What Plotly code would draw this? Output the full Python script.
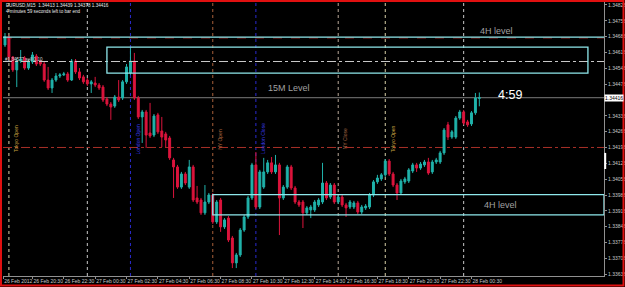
import plotly.graph_objects as go
import pandas as pd

# ---------------- data ----------------
symbol_line = "EURUSD,M15  1.34413 1.34439 1.34378 1.34416"
timer_line = "4 minutes 59 seconds left to bar end"

start = pd.Timestamp("2012-02-26 18:45")
bar = pd.Timedelta(minutes=15)
n_bars = 122
times = pd.date_range(start, periods=n_bars, freq="15min")

open_ = [1.34649, 1.34684, 1.34596, 1.34539, 1.34578, 1.34592, 1.34547, 1.34574, 1.34600, 1.34574,
         1.34565, 1.34494, 1.34459, 1.34494, 1.34512, 1.34517, 1.34521, 1.34494, 1.34578, 1.34530,
         1.34508, 1.34494, 1.34477, 1.34481, 1.34472, 1.34463, 1.34410, 1.34388, 1.34379, 1.34419,
         1.34415, 1.34486, 1.34525, 1.34578, 1.34415, 1.34331, 1.34353, 1.34260, 1.34251, 1.34340,
         1.34269, 1.34256, 1.34238, 1.34141, 1.34110, 1.34021, 1.34079, 1.34021, 1.34110, 1.33973,
         1.33964, 1.33907, 1.33955, 1.33986, 1.33867, 1.33964, 1.33845, 1.33884, 1.33796, 1.33686,
         1.33721, 1.33831, 1.33889, 1.33973, 1.34119, 1.33933, 1.34021, 1.34088, 1.34128, 1.34088,
         1.34119, 1.33973, 1.34021, 1.34110, 1.34017, 1.33955, 1.33955, 1.33907, 1.33920, 1.33920,
         1.33942, 1.33955, 1.34039, 1.33977, 1.34030, 1.33955, 1.33977, 1.33942, 1.33933, 1.33933,
         1.33951, 1.33911, 1.33929, 1.33933, 1.33986, 1.34044, 1.34057, 1.34075, 1.34136, 1.34079,
         1.34030, 1.33995, 1.34044, 1.34048, 1.34092, 1.34119, 1.34105, 1.34119, 1.34132, 1.34088,
         1.34132, 1.34132, 1.34172, 1.34296, 1.34242, 1.34242, 1.34326, 1.34353, 1.34309, 1.34300,
         1.34349, 1.34413]
high = [1.34702, 1.34693, 1.34600, 1.34592, 1.34627, 1.34600, 1.34583, 1.34618, 1.34609, 1.34583,
        1.34574, 1.34552, 1.34503, 1.34525, 1.34525, 1.34530, 1.34530, 1.34587, 1.34587, 1.34547,
        1.34517, 1.34503, 1.34494, 1.34508, 1.34481, 1.34472, 1.34419, 1.34397, 1.34428, 1.34494,
        1.34494, 1.34565, 1.34636, 1.34614, 1.34424, 1.34362, 1.34362, 1.34393, 1.34344, 1.34349,
        1.34331, 1.34265, 1.34247, 1.34150, 1.34119, 1.34088, 1.34088, 1.34141, 1.34119, 1.34026,
        1.33973, 1.34030, 1.33995, 1.33995, 1.33964, 1.33973, 1.33884, 1.33893, 1.33805, 1.33730,
        1.33840, 1.33898, 1.33982, 1.34128, 1.34176, 1.34097, 1.34150, 1.34141, 1.34154, 1.34163,
        1.34128, 1.34030, 1.34119, 1.34119, 1.34026, 1.33964, 1.33964, 1.33937, 1.33942, 1.33964,
        1.33973, 1.34128, 1.34048, 1.34039, 1.34039, 1.33986, 1.33986, 1.33951, 1.33964, 1.33960,
        1.33960, 1.33942, 1.33946, 1.33995, 1.34052, 1.34075, 1.34083, 1.34145, 1.34145, 1.34088,
        1.34039, 1.34057, 1.34066, 1.34105, 1.34128, 1.34128, 1.34132, 1.34141, 1.34150, 1.34141,
        1.34150, 1.34181, 1.34282, 1.34309, 1.34273, 1.34335, 1.34362, 1.34362, 1.34318, 1.34357,
        1.34437, 1.34439]
low = [1.34640, 1.34583, 1.34530, 1.34463, 1.34570, 1.34539, 1.34539, 1.34565, 1.34556, 1.34556,
       1.34486, 1.34450, 1.34437, 1.34486, 1.34503, 1.34512, 1.34486, 1.34490, 1.34521, 1.34494,
       1.34477, 1.34468, 1.34437, 1.34463, 1.34450, 1.34397, 1.34379, 1.34318, 1.34371, 1.34397,
       1.34406, 1.34477, 1.34517, 1.34406, 1.34322, 1.34216, 1.34194, 1.34238, 1.34242, 1.34256,
       1.34198, 1.34198, 1.34141, 1.33973, 1.34013, 1.34013, 1.34030, 1.34013, 1.33955, 1.33946,
       1.33898, 1.33898, 1.33946, 1.33858, 1.33858, 1.33823, 1.33836, 1.33778, 1.33663, 1.33663,
       1.33712, 1.33823, 1.33880, 1.33964, 1.33924, 1.33924, 1.34013, 1.34079, 1.34079, 1.34079,
       1.33809, 1.33964, 1.34013, 1.34008, 1.33946, 1.33933, 1.33840, 1.33898, 1.33884, 1.33911,
       1.33933, 1.33946, 1.33964, 1.33968, 1.33946, 1.33946, 1.33933, 1.33889, 1.33924, 1.33924,
       1.33902, 1.33902, 1.33920, 1.33924, 1.33977, 1.34035, 1.34048, 1.34066, 1.34070, 1.34021,
       1.33964, 1.33986, 1.34035, 1.34039, 1.34083, 1.34088, 1.34097, 1.34110, 1.34075, 1.34079,
       1.34123, 1.34123, 1.34163, 1.34229, 1.34234, 1.34234, 1.34318, 1.34296, 1.34287, 1.34291,
       1.34340, 1.34378]
close = [1.34684, 1.34596, 1.34539, 1.34578, 1.34587, 1.34547, 1.34574, 1.34605, 1.34565, 1.34565,
         1.34494, 1.34459, 1.34494, 1.34512, 1.34517, 1.34521, 1.34494, 1.34578, 1.34530, 1.34503,
         1.34486, 1.34477, 1.34486, 1.34472, 1.34459, 1.34406, 1.34388, 1.34375, 1.34419, 1.34406,
         1.34486, 1.34552, 1.34578, 1.34415, 1.34331, 1.34353, 1.34251, 1.34247, 1.34335, 1.34265,
         1.34242, 1.34229, 1.34150, 1.34110, 1.34021, 1.34079, 1.34039, 1.34110, 1.33964, 1.33955,
         1.33907, 1.33955, 1.33986, 1.33867, 1.33955, 1.33845, 1.33876, 1.33787, 1.33686, 1.33721,
         1.33831, 1.33889, 1.33973, 1.34119, 1.33933, 1.34088, 1.34088, 1.34128, 1.34088, 1.34119,
         1.33973, 1.34021, 1.34110, 1.34017, 1.33955, 1.33942, 1.33907, 1.33929, 1.33933, 1.33955,
         1.33964, 1.34039, 1.33973, 1.34030, 1.33955, 1.33977, 1.33942, 1.33929, 1.33955, 1.33951,
         1.33911, 1.33933, 1.33937, 1.33986, 1.34044, 1.34061, 1.34075, 1.34136, 1.34079, 1.34030,
         1.33995, 1.34048, 1.34057, 1.34097, 1.34119, 1.34105, 1.34123, 1.34132, 1.34083, 1.34132,
         1.34141, 1.34172, 1.34273, 1.34242, 1.34265, 1.34326, 1.34353, 1.34304, 1.34296, 1.34349,
         1.34415, 1.34416]

# price levels
level_4h_top = 1.34684
zone_top_low, zone_top_high = 1.34525, 1.34640
order_level = 1.34576
order_text = "#1.34577 sell 0.10"
bid = 1.34416
red_level = 1.34196
zone_bot_low, zone_bot_high = 1.33898, 1.33988

# session / separator vertical lines: time, label, line colour, label colour
sessions = [
    ("2012-02-26 19:00", "Tokyo Open", "#D8D0A8", "#C8A040"),
    ("2012-02-27 00:00", "", "#C8C8C8", ""),
    ("2012-02-27 02:45", "London Open", "#2A2ACF", "#3A3AE8"),
    ("2012-02-27 08:00", "NY Open", "#A8603A", "#B06A40"),
    ("2012-02-27 10:45", "London Close", "#2A2ACF", "#3A3AE8"),
    ("2012-02-27 16:00", "NY Close", "#B8A898", "#A86A48"),
    ("2012-02-27 19:00", "Tokyo Open", "#D8D0A8", "#C8A040"),
    ("2012-02-28 00:00", "", "#C8C8C8", ""),
]

x_tick_times = ["2012-02-26 18:38", "2012-02-26 20:30", "2012-02-26 22:30", "2012-02-27 00:30",
                "2012-02-27 02:30", "2012-02-27 04:30", "2012-02-27 06:30", "2012-02-27 08:30",
                "2012-02-27 10:30", "2012-02-27 12:30", "2012-02-27 14:30", "2012-02-27 16:30",
                "2012-02-27 18:30", "2012-02-27 20:30", "2012-02-27 22:30", "2012-02-28 00:30"]
x_tick_text = ["26 Feb 2012", "26 Feb 20:30", "26 Feb 22:30", "27 Feb 00:30", "27 Feb 02:30",
               "27 Feb 04:30", "27 Feb 06:30", "27 Feb 08:30", "27 Feb 10:30", "27 Feb 12:30",
               "27 Feb 14:30", "27 Feb 16:30", "27 Feb 18:30", "27 Feb 20:30", "27 Feb 22:30",
               "28 Feb 00:30"]

y_ticks = [1.34826, 1.34756, 1.34686, 1.34616, 1.34546, 1.34476, 1.34336, 1.34266, 1.34196,
           1.34126, 1.34056, 1.33986, 1.33916, 1.33846, 1.33776, 1.33706, 1.33636]
y_tick_text = ["1.34826", "1.34756", "1.34686", "1.34616", "1.34546", "1.34476", "1.34336",
               "1.34266", "1.34196", "1.34126", "1.34056", "1.33986", "1.33916", "1.33846",
               "1.33776", "1.33706", "1.33636"]

# ---------------- figure ----------------
BULL = "#20B2AA"
BEAR = "#DC143C"
CYAN = "#8FE8EC"

x_start = start - bar * 0.51
x_end = start + bar * 152.8

def t(k):
    return start + bar * k

fig = go.Figure()
fig.add_trace(go.Candlestick(
    x=times, open=open_, high=high, low=low, close=close,
    increasing=dict(line=dict(color=BULL, width=1), fillcolor=BULL),
    decreasing=dict(line=dict(color=BEAR, width=1), fillcolor=BEAR),
    whiskerwidth=0, hoverinfo="skip",
))

shapes = []
for ts, lab, lc, tc in sessions:
    shapes.append(dict(type="line", xref="x", yref="paper", x0=ts, x1=ts, y0=0, y1=1,
                       line=dict(color=lc, width=1, dash="dot"), layer="below"))

shapes += [
    dict(type="line", xref="paper", yref="y", x0=0, x1=1, y0=level_4h_top, y1=level_4h_top,
         line=dict(color=CYAN, width=1.2)),
    dict(type="line", xref="paper", yref="y", x0=0, x1=1, y0=level_4h_top - 0.00004, y1=level_4h_top - 0.00004,
         line=dict(color="#8A2020", width=1, dash="dash"), layer="below"),
    dict(type="line", xref="paper", yref="y", x0=0, x1=1, y0=order_level, y1=order_level,
         line=dict(color="#C8C8C8", width=1, dash="dashdot")),
    dict(type="line", xref="paper", yref="y", x0=0, x1=1, y0=bid, y1=bid,
         line=dict(color="#7A7A7A", width=1), layer="below"),
    dict(type="line", xref="paper", yref="y", x0=0, x1=1, y0=red_level, y1=red_level,
         line=dict(color="#A83028", width=1, dash="dashdot"), layer="below"),
    dict(type="rect", xref="x", yref="y", x0=t(26), x1=t(148.7), y0=zone_top_low, y1=zone_top_high,
         line=dict(color=CYAN, width=1.3)),
    dict(type="rect", xref="x", yref="y", x0=t(53), x1=x_end, y0=zone_bot_low, y1=zone_bot_high,
         line=dict(color=CYAN, width=1.3)),
    dict(type="line", xref="paper", yref="y", x0=1.002, x1=1.002, y0=1.34101, y1=1.34172,
         line=dict(color="white", width=2)),
    dict(type="rect", xref="paper", yref="paper", x0=-0.00333, x1=1.03245, y0=-0.03467, y1=1.00365,
         line=dict(color="#E01010", width=2)),
]

annotations = []
for ts, lab, lc, tc in sessions:
    if lab:
        annotations.append(dict(x=pd.Timestamp(ts) + bar * 0.55, y=1.34234, xref="x", yref="y",
                                text=lab, textangle=-90, showarrow=False, xanchor="left",
                                yanchor="middle", font=dict(size=5, color=tc)))

annotations += [
    dict(x=0.002, y=0.989, xref="paper", yref="paper", text=symbol_line, showarrow=False,
         xanchor="left", yanchor="middle", font=dict(size=4.6, color="#E8E8E8")),
    dict(x=0.002, y=0.967, xref="paper", yref="paper", text=timer_line, showarrow=False,
         xanchor="left", yanchor="middle", font=dict(size=4.6, color="#E8E8E8")),
    dict(x=0.0, y=order_level + 0.00007, xref="paper", yref="y", text=order_text, showarrow=False,
         xanchor="left", yanchor="middle", font=dict(size=4.6, color="#D8D8D8")),
    dict(x=t(72.4), y=1.34459, xref="x", yref="y", text="15M Level", showarrow=False,
         font=dict(size=9, color="#A0A0A0")),
    dict(x=t(125.5), y=1.34711, xref="x", yref="y", text="4H level", showarrow=False,
         font=dict(size=9, color="#A0A0A0")),
    dict(x=t(126.5), y=1.33942, xref="x", yref="y", text="4H level", showarrow=False,
         font=dict(size=9, color="#A0A0A0")),
    dict(x=t(128.8), y=1.34428, xref="x", yref="y", text="4:59", showarrow=False,
         font=dict(size=12.5, color="white")),
    dict(x=1.0, y=bid, xref="paper", yref="y", text="1.34416", showarrow=False,
         xanchor="left", yanchor="middle", bgcolor="white", borderpad=0,
         font=dict(size=5, color="black")),
]

fig.update_layout(
    template="none",
    width=625, height=287,
    margin=dict(l=3, r=21, t=2, b=11),
    paper_bgcolor="black", plot_bgcolor="black",
    showlegend=False,
    font=dict(family="Liberation Sans", size=5, color="#C8C8C8"),
    shapes=shapes, annotations=annotations,
    boxgap=0.3,
)
fig.update_xaxes(
    type="date", range=[x_start, x_end], rangeslider=dict(visible=False),
    showgrid=False, zeroline=False, showline=True, linecolor="#909090", linewidth=1,
    ticks="outside", ticklen=2, tickcolor="#909090", tickwidth=1, tickangle=0,
    tickvals=x_tick_times, ticktext=x_tick_text, ticklabelposition="outside right",
    tickfont=dict(size=5, color="#C8C8C8", family="Liberation Sans"), automargin=False,
    fixedrange=True,
)
fig.update_yaxes(
    side="right", range=[1.33628, 1.34839], showgrid=False, zeroline=False,
    showline=True, linecolor="#909090", linewidth=1, mirror=False,
    ticks="outside", ticklen=2, tickcolor="#909090",
    tickvals=y_ticks, ticktext=y_tick_text,
    tickfont=dict(size=5, color="#C8C8C8", family="Liberation Sans"), automargin=False,
    fixedrange=True,
)

fig.write_html("out.html")
